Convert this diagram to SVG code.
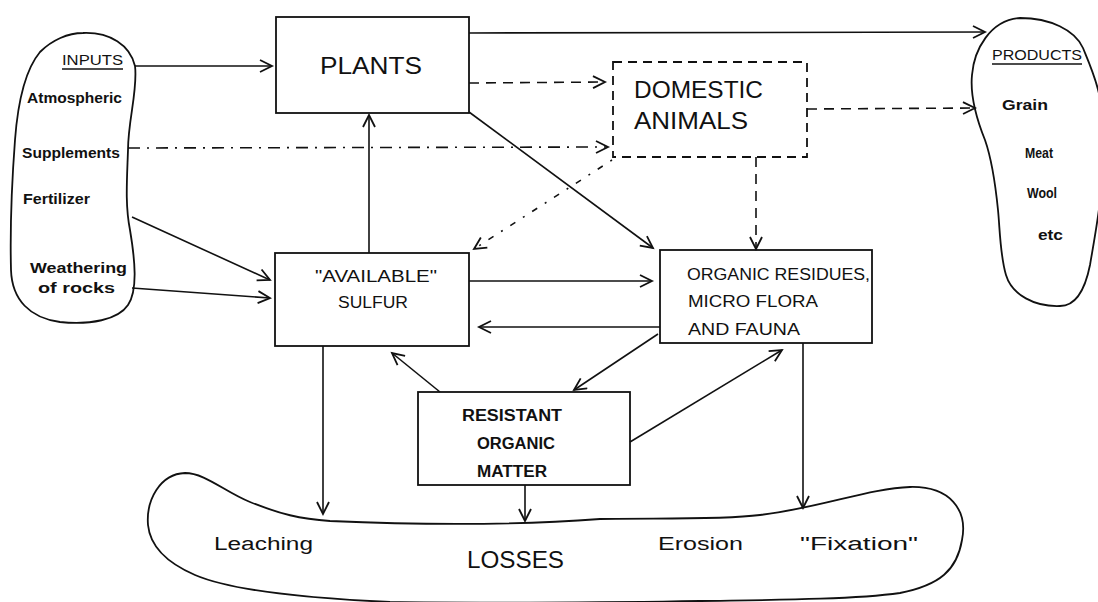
<svg xmlns="http://www.w3.org/2000/svg" width="1098" height="602" viewBox="0 0 1098 602">
<style>
.box{fill:none;stroke:#111;stroke-width:1.8}
.dbox{fill:none;stroke:#111;stroke-width:1.8;stroke-dasharray:9 6}
.blob{fill:none;stroke:#111;stroke-width:1.8}
.c{fill:none;stroke:#111;stroke-width:1.6;marker-end:url(#arr)}
.dash{stroke-dasharray:10 7}
.dashdot{stroke-dasharray:12 7 2 7}
.dot{stroke-dasharray:2 9 6 9}
text{font-family:"Liberation Sans",Arial,sans-serif;fill:#111}
.big{font-size:24px}
.mid{font-size:16px}
.bold{font-weight:bold}
.sm{font-size:15px;font-weight:bold}
.low{font-size:18px}
</style>
<defs>
<marker id="arr" markerUnits="userSpaceOnUse" markerWidth="16" markerHeight="16" refX="13" refY="7" orient="auto">
<path d="M1,1 L13,7 L1,13" fill="none" stroke="#111" stroke-width="1.8"/>
</marker>
</defs>

<g id="inputs">
<path class="blob" d="M83,33 C110,32 130,45 135,66 C138,90 128,120 128,150 C127,180 125,205 130,230 C135,260 138,290 128,305 C118,320 90,325 60,322 C30,318 12,300 11,270 C10,230 12,180 15,140 C18,100 25,70 40,52 C52,40 68,33 83,33 Z"/>
<text class="sm" x="62" y="65" textLength="61" lengthAdjust="spacingAndGlyphs" style="font-weight:normal">INPUTS</text>
<line x1="62" y1="69" x2="123" y2="69" stroke="#111" stroke-width="1.3"/>
<text class="sm" x="27" y="103" textLength="95" lengthAdjust="spacingAndGlyphs">Atmospheric</text>
<text class="sm" x="22" y="158" textLength="98" lengthAdjust="spacingAndGlyphs">Supplements</text>
<text class="sm" x="23" y="204" textLength="67" lengthAdjust="spacingAndGlyphs">Fertilizer</text>
<text class="sm" x="30" y="273" textLength="97" lengthAdjust="spacingAndGlyphs">Weathering</text>
<text class="sm" x="38" y="293" textLength="77" lengthAdjust="spacingAndGlyphs">of  rocks</text>
</g>

<g id="products">
<path class="blob" d="M1020,18 C1050,18 1075,30 1083,48 C1092,70 1104,95 1104,140 C1104,190 1095,235 1090,265 C1085,290 1075,306 1060,306 C1035,307 1012,295 1006,275 C1000,255 1000,230 998,210 C995,180 992,160 985,140 C975,115 970,95 972,75 C974,50 990,20 1020,18 Z"/>
<text class="sm" x="992" y="60" textLength="90" lengthAdjust="spacingAndGlyphs" style="font-weight:normal">PRODUCTS</text>
<line x1="992" y1="64" x2="1082" y2="64" stroke="#111" stroke-width="1.3"/>
<text class="sm" x="1002" y="110" textLength="46" lengthAdjust="spacingAndGlyphs">Grain</text>
<text class="sm" x="1025" y="158" textLength="28" lengthAdjust="spacingAndGlyphs">Meat</text>
<text class="sm" x="1027" y="198" textLength="30" lengthAdjust="spacingAndGlyphs">Wool</text>
<text class="sm" x="1038" y="240" textLength="25" lengthAdjust="spacingAndGlyphs">etc</text>
</g>

<g id="plants">
<rect class="box" x="276" y="17" width="193" height="96"/>
<text class="big" x="320" y="74" textLength="102" lengthAdjust="spacingAndGlyphs">PLANTS</text>
</g>

<g id="domestic-animals">
<rect class="dbox" x="613" y="62" width="194" height="95"/>
<text class="big" x="634" y="98" textLength="129" lengthAdjust="spacingAndGlyphs">DOMESTIC</text>
<text class="big" x="634" y="129" textLength="114" lengthAdjust="spacingAndGlyphs">ANIMALS</text>
</g>

<g id="available-sulfur">
<rect class="box" x="275" y="253" width="194" height="93"/>
<text class="mid" x="315" y="282" textLength="122" lengthAdjust="spacingAndGlyphs">"AVAILABLE"</text>
<text class="mid" x="338" y="308" textLength="70" lengthAdjust="spacingAndGlyphs">SULFUR</text>
</g>

<g id="organic-residues">
<rect class="box" x="660" y="250" width="212" height="93"/>
<text class="mid" x="687" y="280" textLength="183" lengthAdjust="spacingAndGlyphs">ORGANIC RESIDUES,</text>
<text class="mid" x="688" y="307" textLength="130" lengthAdjust="spacingAndGlyphs">MICRO FLORA</text>
<text class="mid" x="688" y="335" textLength="112" lengthAdjust="spacingAndGlyphs">AND  FAUNA</text>
</g>

<g id="resistant-organic-matter">
<rect class="box" x="418" y="392" width="212" height="93"/>
<text class="mid bold" x="462" y="421" textLength="100" lengthAdjust="spacingAndGlyphs">RESISTANT</text>
<text class="mid bold" x="477" y="449" textLength="78" lengthAdjust="spacingAndGlyphs">ORGANIC</text>
<text class="mid bold" x="477" y="477" textLength="70" lengthAdjust="spacingAndGlyphs">MATTER</text>
</g>

<g id="losses">
<path class="blob" d="M148,525 C146,500 160,474 185,473 C205,473 225,492 250,502 C280,514 300,519 330,521 C420,525 520,525 600,519 C660,518 720,520 760,515 C820,508 870,488 910,487 C950,486 968,510 962,540 C957,570 940,585 900,593 C850,600 760,600 700,601 C600,603 450,603 390,602 C300,598 230,590 195,575 C165,562 150,545 148,525 Z"/>
<text class="low" x="214" y="550" textLength="99" lengthAdjust="spacingAndGlyphs">Leaching</text>
<text class="big" x="467" y="568" textLength="97" lengthAdjust="spacingAndGlyphs">LOSSES</text>
<text class="low" x="658" y="550" textLength="85" lengthAdjust="spacingAndGlyphs">Erosion</text>
<text class="low" x="800" y="550" textLength="118" lengthAdjust="spacingAndGlyphs">"Fixation"</text>
</g>

<g id="connectors">
<path class="c" d="M135,66 L272,66"/>
<path class="c dashdot" d="M128,148 L608,147"/>
<path class="c" d="M132,217 L270,280"/>
<path class="c" d="M132,288 L270,298"/>
<path class="c" d="M469,33 L985,32"/>
<path class="c dash" d="M469,83 L605,82"/>
<path class="c dash" d="M807,109 L975,108"/>
<path class="c dash" d="M756,157 L756,249"/>
<path class="c dot" d="M612,160 L474,249"/>
<path class="c" d="M469,112 L653,248"/>
<path class="c" d="M369,253 L369,115"/>
<path class="c" d="M469,281 L652,281"/>
<path class="c" d="M660,327 L479,327"/>
<path class="c" d="M658,334 L574,390"/>
<path class="c" d="M440,392 L392,353"/>
<path class="c" d="M630,442 L782,350"/>
<path class="c" d="M323,346 L323,514"/>
<path class="c" d="M525,485 L525,521"/>
<path class="c" d="M803,343 L803,508"/>
</g>
</svg>
